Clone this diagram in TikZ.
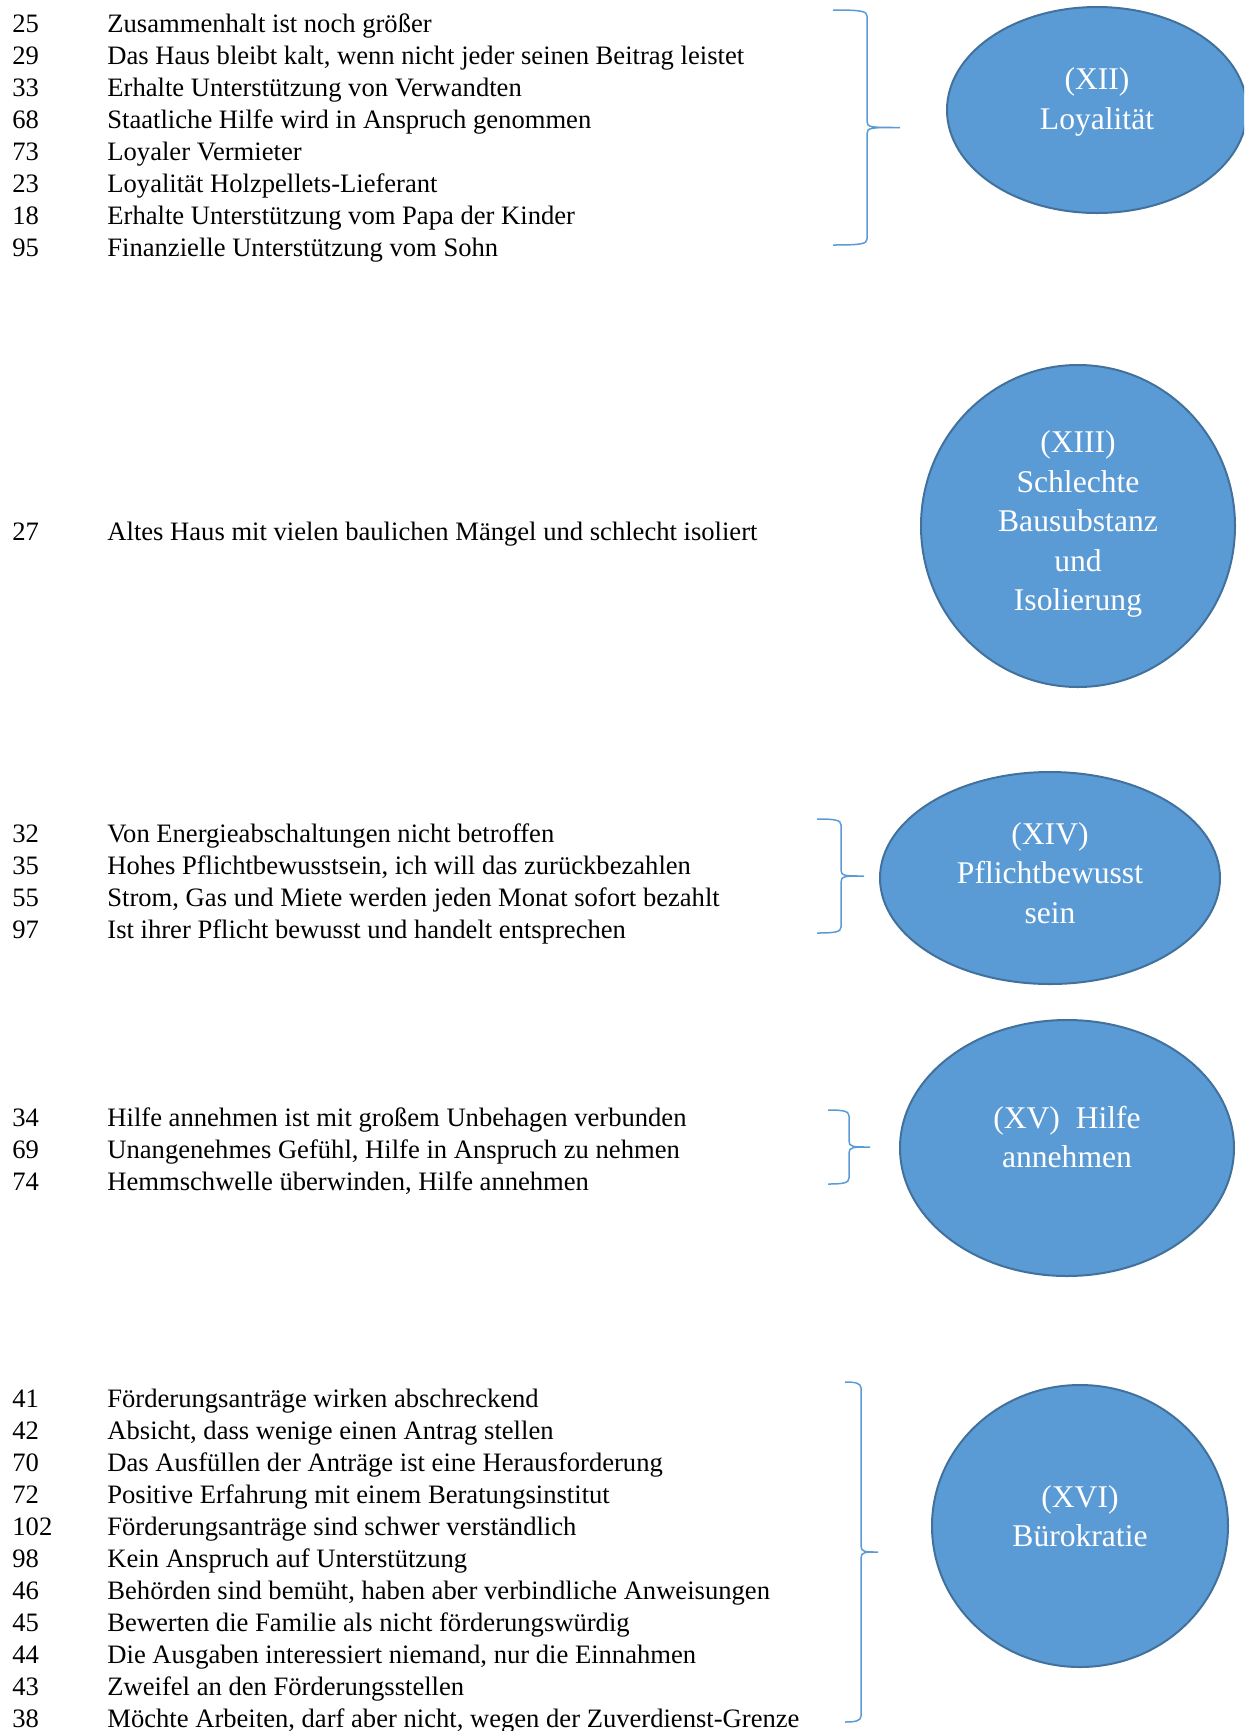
\documentclass[tikz,border=0pt]{standalone}
\usepackage{fontspec}
\setmainfont{Liberation Serif}
\usetikzlibrary{shapes.geometric}
\definecolor{bubblefill}{HTML}{5B9BD5}
\definecolor{bubbleline}{HTML}{41719C}
\begin{document}
\begin{tikzpicture}[x=0.5pt,y=-0.5pt,
    entry/.style={anchor=base west, inner sep=0pt, font=\fontsize{13.3}{16}\selectfont},
    bubble/.style={ellipse, draw=bubbleline, line width=1pt, fill=bubblefill, inner sep=0pt},
    bubbletext/.style={align=center, text=white, inner sep=0pt, font=\fontsize{15.8}{19.75}\selectfont},
    bracket/.style={draw=bubblefill, line width=0.75pt}]
            \useasboundingbox (0,0) rectangle (1244,1731);
            \clip (0,0) rectangle (1244,1731);
            % (XII)
            \foreach \n/\t [count=\i] in {25/{Zusammenhalt ist noch größer},
                29/{Das Haus bleibt kalt, wenn nicht jeder seinen Beitrag leistet},
                33/{Erhalte Unterstützung von Verwandten},
                68/{Staatliche Hilfe wird in Anspruch genommen},
                73/{Loyaler Vermieter},
                23/{Loyalität Holzpellets-Lieferant},
                18/{Erhalte Unterstützung vom Papa der Kinder},
                95/{Finanzielle Unterstützung vom Sohn}}{
                \node[entry] (nr12-\i) at (12,{32*\i}) {\n};
                \node[entry] (txt12-\i) at (107,{32*\i}) {\t};
            }
            % (XIII)
            \node[entry] (nr13-1) at (12,540) {27};
            \node[entry] (txt13-1) at (107,540) {Altes Haus mit vielen baulichen Mängel und schlecht isoliert};
            % (XIV)
            \foreach \n/\t [count=\i] in {32/{Von Energieabschaltungen nicht betroffen},
                35/{Hohes Pflichtbewusstsein, ich will das zurückbezahlen},
                55/{Strom, Gas und Miete werden jeden Monat sofort bezahlt},
                97/{Ist ihrer Pflicht bewusst und handelt entsprechen}}{
                \node[entry] (nr14-\i) at (12,{810+32*\i}) {\n};
                \node[entry] (txt14-\i) at (107,{810+32*\i}) {\t};
            }
            % (XV)
            \foreach \n/\t [count=\i] in {34/{Hilfe annehmen ist mit großem Unbehagen verbunden},
                69/{Unangenehmes Gefühl, Hilfe in Anspruch zu nehmen},
                74/{Hemmschwelle überwinden, Hilfe annehmen}}{
                \node[entry] (nr15-\i) at (12,{1094+32*\i}) {\n};
                \node[entry] (txt15-\i) at (107,{1094+32*\i}) {\t};
            }
            % (XVI)
            \foreach \n/\t [count=\i] in {41/{Förderungsanträge wirken abschreckend},
                42/{Absicht, dass wenige einen Antrag stellen},
                70/{Das Ausfüllen der Anträge ist eine Herausforderung},
                72/{Positive Erfahrung mit einem Beratungsinstitut},
                102/{Förderungsanträge sind schwer verständlich},
                98/{Kein Anspruch auf Unterstützung},
                46/{Behörden sind bemüht, haben aber verbindliche Anweisungen},
                45/{Bewerten die Familie als nicht förderungswürdig},
                44/{Die Ausgaben interessiert niemand, nur die Einnahmen},
                43/{Zweifel an den Förderungsstellen},
                38/{Möchte Arbeiten, darf aber nicht, wegen der Zuverdienst-Grenze}}{
                \node[entry] (nr16-\i) at (12,{1375+32*\i}) {\n};
                \node[entry] (txt16-\i) at (107,{1375+32*\i}) {\t};
            }
            % braces
            \foreach \xl/\xv/\xt/\yt/\yb in {833/867/900/10/245, 817/841/864/819/933,
                828/849/870/1110/1184, 845/861/878/1382/1722}{
                \pgfmathsetmacro\ym{(\yt+\yb)/2}
                \draw[bracket] (\xl,\yt) .. controls (\xv-6,\yt) and (\xv,\yt+1) .. (\xv,\yt+6)
                    -- (\xv,\ym-6) .. controls (\xv,\ym) and (\xv+4,\ym) .. (\xt,\ym)
                    .. controls (\xv+4,\ym) and (\xv,\ym) .. (\xv,\ym+6)
                    -- (\xv,\yb-6) .. controls (\xv,\yb-1) and (\xv-6,\yb) .. (\xl,\yb);
            }
            % categories
            \node[bubble, minimum width=150pt, minimum height=103pt] (xii) at (1097,110) {};
            \node[bubble, minimum width=157pt, minimum height=161pt] (xiii) at (1078,526) {};
            \node[bubble, minimum width=170pt, minimum height=106pt] (xiv) at (1050,878) {};
            \node[bubble, minimum width=167pt, minimum height=128pt] (xv) at (1067,1148) {};
            \node[bubble, minimum width=148pt, minimum height=141pt] (xvi) at (1080,1526) {};
            \node[bubbletext] (xii-t) at (1097,102) {(XII)\\Loyalität};
            \node[bubbletext] (xiii-t) at (1078,524) {(XIII)\\Schlechte\\Bausubstanz\\und\\Isolierung};
            \node[bubbletext] (xiv-t) at (1050,873) {(XIV)\\Pflichtbewusst\\sein};
            \node[bubbletext] (xv-t) at (1067,1137) {(XV)\ \ Hilfe\\annehmen};
            \node[bubbletext] (xvi-t) at (1080,1516) {(XVI)\\Bürokratie};
        \end{tikzpicture}
\end{document}
